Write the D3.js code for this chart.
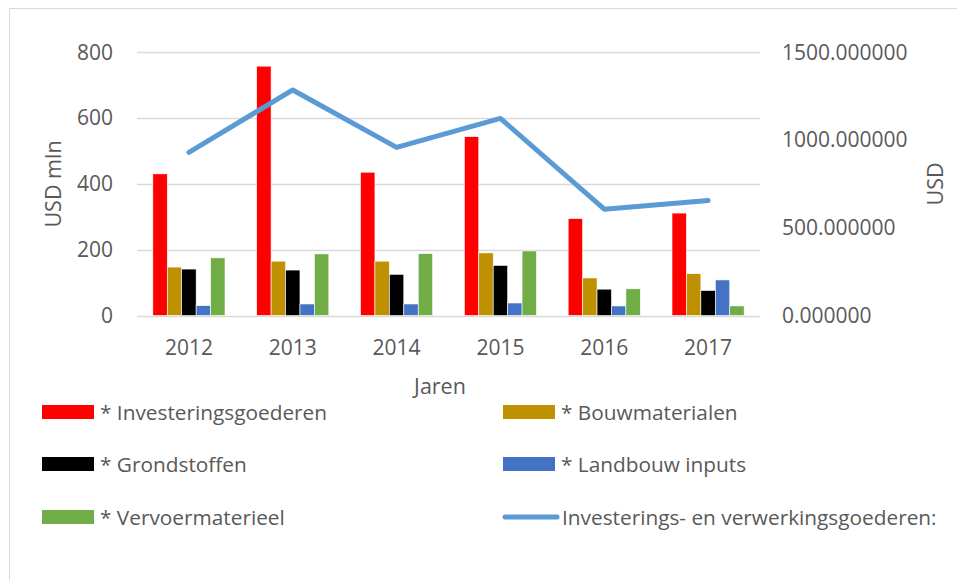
<!DOCTYPE html>
<html>
<head>
<meta charset="utf-8">
<script src="https://cdn.jsdelivr.net/npm/d3@7"></script>
<style>
  body { margin: 0; background: #fff; }
  svg { display: block; }
  text { font-family: "Open Sans", Lato, sans-serif; fill: #595959; }
</style>
</head>
<body>
<svg id="chart" width="957" height="580"></svg>
<script>
const years = ["2012", "2013", "2014", "2015", "2016", "2017"];
const seriesNames = ["* Investeringsgoederen", "* Bouwmaterialen", "* Grondstoffen", "* Landbouw inputs", "* Vervoermaterieel"];
const seriesColors = ["#FF0000", "#BF9000", "#000000", "#4472C4", "#70AD47"];
const investeringsgoederen = [430, 757, 435, 543, 294, 311];
const bouwmaterialen = [147, 165, 165, 190, 114, 127];
const grondstoffen = [141, 138, 125, 152, 80, 76];
const landbouwInputs = [30, 35, 35, 38, 29, 108];
const vervoermaterieel = [175, 187, 188, 196, 81, 29];
const lineName = "Investerings- en verwerkingsgoederen:";
const lineColor = "#5B9BD5";
const lineValues = [929, 1284, 957, 1122, 605, 654];
const leftTicks = [0, 200, 400, 600, 800];
const rightTicks = [0, 500, 1000, 1500];

const seriesValues = [investeringsgoederen, bouwmaterialen, grondstoffen, landbouwInputs, vervoermaterieel];

const svg = d3.select("#chart");

// chart border
svg.append("rect").attr("x", 9.5).attr("y", 8.5).attr("width", 1000).attr("height", 600)
  .attr("fill", "none").attr("stroke", "#d9d9d9").attr("stroke-width", 1);

const plotL = 137, plotR = 760, plotT = 52, plotB = 315.5;

const x0 = d3.scaleBand().domain(years).range([plotL, plotR]).paddingInner(0).paddingOuter(0);
const groupW = x0.bandwidth() * 0.695;
const x1 = d3.scaleBand().domain(d3.range(seriesNames.length))
  .range([(x0.bandwidth() - groupW) / 2, (x0.bandwidth() + groupW) / 2]);
const yL = d3.scaleLinear().domain([0, 800]).range([plotB, plotT]);
const yR = d3.scaleLinear().domain([0, 1500]).range([plotB, plotT]);

// gridlines
svg.append("g").selectAll("line").data(leftTicks).join("line")
  .attr("x1", plotL).attr("x2", plotR)
  .attr("y1", d => Math.round(yL(d)) + 0.5).attr("y2", d => Math.round(yL(d)) + 0.5)
  .attr("stroke", "#d9d9d9").attr("stroke-width", 1.3);

const fsTick = 21, fsLeg = 20.8, fsTitle = 21.5;

// left axis labels
svg.append("g").selectAll("text").data(leftTicks).join("text")
  .attr("x", 113).attr("y", d => yL(d)).attr("dy", "0.36em")
  .attr("text-anchor", "end").attr("font-size", fsTick).text(d => d3.format("d")(d));

// right axis labels
svg.append("g").selectAll("text").data(rightTicks).join("text")
  .attr("x", 782).attr("y", d => yR(d)).attr("dy", "0.36em")
  .attr("text-anchor", "start").attr("font-size", fsTick).text(d => d3.format(".6f")(d));

// x labels
svg.append("g").selectAll("text").data(years).join("text")
  .attr("x", d => x0(d) + x0.bandwidth() / 2).attr("y", 347).attr("dy", "0.36em")
  .attr("text-anchor", "middle").attr("font-size", fsTick).text(d => d);

// axis titles
svg.append("text").attr("x", 440).attr("y", 386).attr("dy", "0.36em")
  .attr("text-anchor", "middle").attr("font-size", fsTitle).text("Jaren");
svg.append("text").attr("transform", "translate(53,184) rotate(-90)").attr("dy", "0.36em")
  .attr("text-anchor", "middle").attr("font-size", fsTitle).text("USD mln");
svg.append("text").attr("transform", "translate(935,184) rotate(-90)").attr("dy", "0.36em")
  .attr("text-anchor", "middle").attr("font-size", fsTitle).text("USD");

// bars
const groups = svg.append("g").selectAll("g").data(years).join("g")
  .attr("transform", d => `translate(${x0(d)},0)`);
groups.selectAll("rect").data((d, i) => seriesValues.map((s, k) => ({k, v: s[i]}))).join("rect")
  .attr("x", d => x1(d.k)).attr("width", x1.bandwidth())
  .attr("y", d => yL(d.v)).attr("height", d => yL(0) - yL(d.v))
  .attr("fill", d => seriesColors[d.k])
  .attr("stroke", "#ffffff").attr("stroke-width", 0.6);

// line
const line = d3.line().x((d, i) => x0(years[i]) + x0.bandwidth() / 2).y(d => yR(d));
svg.append("path").datum(lineValues).attr("d", line)
  .attr("fill", "none").attr("stroke", lineColor).attr("stroke-width", 5)
  .attr("stroke-linecap", "round").attr("stroke-linejoin", "round");

// legend
const legendItems = seriesNames.map((n, i) => ({name: n, color: seriesColors[i], type: "rect"}))
  .concat([{name: lineName, color: lineColor, type: "line"}]);
const colX = [42, 503];
const rowY = [412, 464, 517];
const lg = svg.append("g").selectAll("g").data(legendItems).join("g")
  .attr("transform", (d, i) => `translate(${colX[i % 2]},${rowY[Math.floor(i / 2)]})`);
lg.filter(d => d.type === "rect").append("rect")
  .attr("x", 0).attr("y", -7).attr("width", 52).attr("height", 14).attr("fill", d => d.color);
lg.filter(d => d.type === "line").append("line")
  .attr("x1", 2).attr("x2", 54).attr("y1", 0).attr("y2", 0)
  .attr("stroke", d => d.color).attr("stroke-width", 5).attr("stroke-linecap", "round");
lg.append("text").attr("x", d => d.type === "rect" ? 58 : 59).attr("y", 0).attr("dy", "0.36em")
  .attr("font-size", fsLeg).text(d => d.name);
</script>
</body>
</html>
